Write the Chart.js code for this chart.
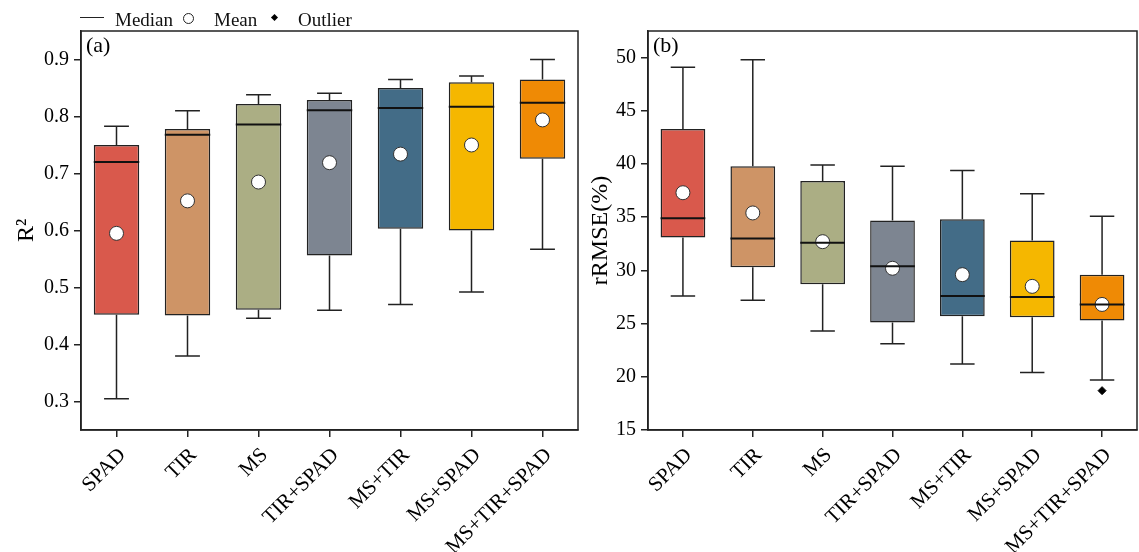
<!DOCTYPE html>
<html>
<head>
<meta charset="utf-8">
<script src="https://cdn.jsdelivr.net/npm/chart.js@4.4.0/dist/chart.umd.min.js"></script>
<style>
  body { margin: 0; background: #fff; width: 1139px; height: 552px; overflow: hidden; position: relative; font-family: 'Liberation Serif', serif; }
  #wa { position: absolute; left: 0; top: 0; }
  #wb { position: absolute; left: 580px; top: 0; }
  .lg { position: absolute; font-size: 19px; line-height: 19px; color: #111; white-space: nowrap; }
  .ln { position: absolute; left: 80px; top: 17px; width: 24px; height: 0; border-top: 1.5px solid #222; }
  .circ { position: absolute; left: 183px; top: 13px; width: 9px; height: 9px; border: 1px solid #222; border-radius: 50%; background: #fff; }
  .dia { position: absolute; left: 272px; top: 15px; width: 5px; height: 5px; background: #000; transform: rotate(45deg); }
</style>
</head>
<body>
<canvas id="wa" width="580" height="552"></canvas>
<canvas id="wb" width="559" height="552"></canvas>
<div class="ln"></div>
<div class="lg" style="left:115px;top:10px">Median</div>
<div class="circ"></div>
<div class="lg" style="left:214px;top:10px">Mean</div>
<div class="dia"></div>
<div class="lg" style="left:298px;top:10px">Outlier</div>
<script>
const categories = ['SPAD', 'TIR', 'MS', 'TIR+SPAD', 'MS+TIR', 'MS+SPAD', 'MS+TIR+SPAD'];
const boxColors = ['#D9594C', '#CE9466', '#ABAE84', '#7D8591', '#436C87', '#F5B700', '#EF8A05'];

// panel (a) R2
const r2Min = [0.305, 0.380, 0.446, 0.460, 0.470, 0.492, 0.567];
const r2Q1 = [0.452, 0.451, 0.461, 0.556, 0.603, 0.600, 0.726];
const r2Median = [0.720, 0.768, 0.786, 0.811, 0.815, 0.817, 0.824];
const r2Q3 = [0.750, 0.778, 0.822, 0.829, 0.850, 0.860, 0.865];
const r2Max = [0.783, 0.810, 0.838, 0.841, 0.865, 0.871, 0.900];
const r2Mean = [0.595, 0.652, 0.685, 0.719, 0.734, 0.750, 0.794];
const r2Ticks = [0.3, 0.4, 0.5, 0.6, 0.7, 0.8, 0.9];

// panel (b) rRMSE
const rmseMin = [27.6, 27.2, 24.3, 23.1, 21.2, 20.4, 19.7];
const rmseQ1 = [33.1, 30.3, 28.7, 25.1, 25.7, 25.6, 25.3];
const rmseMedian = [34.9, 33.0, 32.6, 30.4, 27.6, 27.5, 26.8];
const rmseQ3 = [43.3, 39.8, 38.4, 34.7, 34.8, 32.8, 29.6];
const rmseMax = [49.1, 49.8, 39.9, 39.8, 39.4, 37.2, 35.1];
const rmseMean = [37.3, 35.4, 32.7, 30.2, 29.6, 28.5, 26.8];
const rmseOutlier = [null, null, null, null, null, null, 18.7];
const rmseTicks = [15, 20, 25, 30, 35, 40, 45, 50];

const FONT = 'Liberation Serif';
const INK = '#222';

// whiskers behind the boxes, medians on top of everything, frame + panel tag last
const boxPlugin = {
  id: 'boxparts',
  beforeDatasetsDraw(chart, args, opts) {
    const {ctx, scales: {x, y}} = chart;
    const step = x.getPixelForValue(1) - x.getPixelForValue(0);
    const hw = step * 0.175;
    ctx.save();
    ctx.strokeStyle = INK;
    ctx.lineWidth = 1.5;
    opts.low.forEach((lo, i) => {
      const px = x.getPixelForValue(i);
      const pairs = [[opts.q1[i], lo], [opts.q3[i], opts.high[i]]];
      pairs.forEach(([from, to]) => {
        const y0 = y.getPixelForValue(from), y1 = y.getPixelForValue(to);
        ctx.beginPath();
        ctx.moveTo(px, y0); ctx.lineTo(px, y1);
        ctx.moveTo(px - hw, y1); ctx.lineTo(px + hw, y1);
        ctx.stroke();
      });
    });
    ctx.restore();
  },
  afterDatasetsDraw(chart, args, opts) {
    const {ctx, scales: {y}} = chart;
    const meta = chart.getDatasetMeta(0);
    ctx.save();
    ctx.strokeStyle = '#111';
    ctx.lineWidth = 2;
    opts.median.forEach((m, i) => {
      const el = meta.data[i];
      const py = y.getPixelForValue(m);
      ctx.beginPath();
      ctx.moveTo(el.x - el.width / 2, py);
      ctx.lineTo(el.x + el.width / 2, py);
      ctx.stroke();
    });
    ctx.restore();
  },
  afterDraw(chart, args, opts) {
    const {ctx, chartArea: a} = chart;
    ctx.save();
    ctx.strokeStyle = INK;
    ctx.lineWidth = 1.5;
    ctx.strokeRect(a.left, a.top, a.right - a.left, a.bottom - a.top);
    ctx.fillStyle = '#000';
    ctx.font = '22px ' + FONT;
    ctx.textBaseline = 'alphabetic';
    ctx.fillText(opts.tag, a.left + 5, a.top + 21);
    ctx.restore();
  }
};

function makePanel(id, cfg) {
  const datasets = [
    {
      type: 'bar',
      data: cfg.q1.map((v, i) => [v, cfg.q3[i]]),
      backgroundColor: boxColors,
      borderColor: INK,
      borderWidth: 1.5,
      borderSkipped: false,
      barPercentage: 0.64,
      categoryPercentage: 1,
      order: 3
    },
    {
      type: 'line',
      data: cfg.mean,
      showLine: false,
      pointRadius: 7,
      pointBackgroundColor: '#fff',
      pointBorderColor: '#333',
      pointBorderWidth: 1,
      order: 2
    }
  ];
  if (cfg.outlier) {
    datasets.push({
      type: 'line',
      data: cfg.outlier,
      showLine: false,
      pointStyle: 'rectRot',
      pointRadius: 4,
      pointBackgroundColor: '#000',
      pointBorderColor: '#000',
      order: 1
    });
  }
  return new Chart(document.getElementById(id), {
    type: 'bar',
    data: { labels: categories, datasets },
    options: {
      responsive: false,
      animation: false,
      layout: { autoPadding: false, padding: { left: 0, right: 2, top: 31, bottom: 0 } },
      plugins: {
        legend: { display: false },
        tooltip: { enabled: false },
        boxparts: { low: cfg.low, q1: cfg.q1, q3: cfg.q3, high: cfg.high, median: cfg.median, tag: cfg.tag }
      },
      scales: {
        x: {
          grid: { display: true, drawOnChartArea: false, drawTicks: true, tickLength: 7, color: INK, lineWidth: 1.5, offset: false },
          border: { display: true, color: INK, width: 1.5 },
          ticks: { color: '#000', font: { family: FONT, size: 21 }, minRotation: 45, maxRotation: 45, autoSkip: false, padding: 6, labelOffset: 6 },
          afterFit(s) { s.height = 122; s.paddingLeft = 0; s.paddingRight = 0; }
        },
        y: {
          min: cfg.min,
          max: cfg.max,
          grid: { drawOnChartArea: false, drawTicks: true, tickLength: 7, color: INK, lineWidth: 1.5 },
          border: { display: true, color: INK, width: 1.5 },
          ticks: {
            padding: 5,
            color: '#000',
            font: { family: FONT, size: 20 },
            callback: v => cfg.fmt(v)
          },
          afterBuildTicks(s) { s.ticks = cfg.ticks.map(v => ({ value: v })); },
          title: { display: true, text: cfg.title, color: '#000', font: { family: FONT, size: 24 }, padding: { top: cfg.titlePad, bottom: 0 } },
          afterFit(s) { s.width = cfg.axisW; s.paddingTop = 0; s.paddingBottom = 0; }
        }
      }
    },
    plugins: [boxPlugin]
  });
}

makePanel('wa', {
  low: r2Min, q1: r2Q1, median: r2Median, q3: r2Q3, high: r2Max, mean: r2Mean,
  min: 0.25, max: 0.95, ticks: r2Ticks, fmt: v => v.toFixed(1),
  title: 'R²', titlePad: 12, axisW: 81, tag: '(a)'
});

makePanel('wb', {
  low: rmseMin, q1: rmseQ1, median: rmseMedian, q3: rmseQ3, high: rmseMax, mean: rmseMean, outlier: rmseOutlier,
  min: 15, max: 52.5, ticks: rmseTicks, fmt: v => String(Math.round(v)),
  title: 'rRMSE(%)', titlePad: 6, axisW: 68, tag: '(b)'
});
</script>
</body>
</html>
